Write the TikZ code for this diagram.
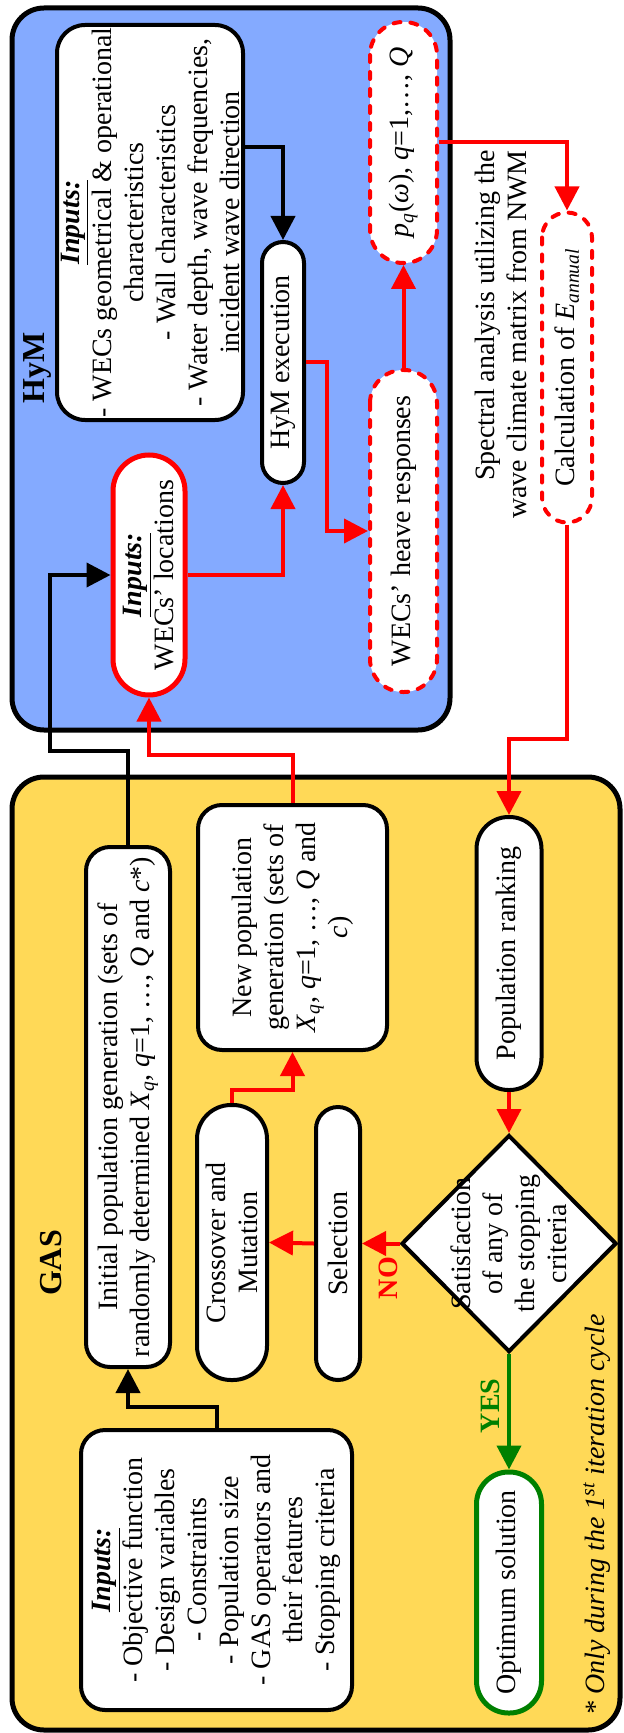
\documentclass[tikz,border=0pt]{standalone}
\usepackage{fontspec}
\setmainfont{Liberation Serif}
\usepackage{xcolor}
\usepackage{tikz}
\usetikzlibrary{calc,positioning,arrows.meta,shapes,fit,backgrounds}

\definecolor{hymblue}{RGB}{132,170,255}
\definecolor{gasyellow}{RGB}{255,217,87}
\definecolor{yesgreen}{RGB}{0,128,0}

\begin{document}
\begin{tikzpicture}[x=0.5pt, y=0.5pt, align=center, font=\fontsize{14}{16}\selectfont,
    every node/.append style={rotate=90},
    box/.style={draw, line width=2pt, fill=white, rounded corners=12pt, inner sep=1pt},
    pill/.style={draw, line width=2pt, fill=white, inner sep=1pt},
    redpill/.style={pill, draw=red, line width=2.5pt},
    dashpill/.style={pill, draw=red, dash pattern=on 3.5pt off 5pt, line cap=round},
    flow/.style={line width=2pt, -{Triangle[length=12pt, width=12pt]}},
    redflow/.style={flow, red}]
    \useasboundingbox (0,0) rectangle (623,-1733);

    \draw[line width=2.5pt, fill=hymblue, rounded corners=16pt] (12,-8) rectangle (450,-730);
    \draw[line width=2.5pt, fill=gasyellow, rounded corners=16pt] (12,-777) rectangle (620,-1730);
    \node[font=\fontsize{16}{18}\selectfont\bfseries] (hym_title) at (37,-368) {HyM};
    \node[font=\fontsize{16}{18}\selectfont\bfseries] (gas_title) at (51,-1263) {GAS};

    % HyM
    \node[box, rounded corners=14pt, minimum width=197.5pt, minimum height=93pt] (hym_inputs) at (150,-222.5) {\underline{\textbf{\textit{Inputs:}}}\\- WECs geometrical \& operational\\characteristics\\- Wall characteristics\\- Water depth, wave frequencies,\\incident wave direction};
    \node[pill, rounded corners=10.5pt, minimum width=120.5pt, minimum height=21pt] (hym_exec) at (283,-362.5) {HyM execution};
    \node[redpill, rounded corners=18pt, minimum width=120pt, minimum height=36pt] (wec_loc) at (149,-575) {\underline{\textbf{\textit{Inputs:}}}\\WECs' locations};
    \node[dashpill, rounded corners=16.5pt, minimum width=161pt, minimum height=33.5pt] (heave) at (403.5,-531) {WECs' heave responses};
    \node[dashpill, rounded corners=16.5pt, minimum width=120.5pt, minimum height=33.5pt] (pq) at (403.5,-142.5) {\textit{p}\textsubscript{\textit{q}}(\textit{ω}), \textit{q}=1,…, \textit{Q}};
    \node[dashpill, rounded corners=12.5pt, minimum width=155pt, minimum height=25pt] (calc) at (567,-367.5) {Calculation of \textit{E}\textsubscript{\textit{annual}}};
    \node[anchor=east, align=right, inner sep=0pt] (spectral) at (500.5,-150) {Spectral analysis utilizing the\\wave climate matrix from NWM};

    % GAS
    \node[box, minimum width=260pt, minimum height=42pt] (init_pop) at (128,-1107) {Initial population generation (sets of\\randomly determined \textit{X}\textsubscript{\textit{q}}, \textit{q}=1, …, \textit{Q} and \textit{c}*)};
    \node[box, minimum width=122.5pt, minimum height=94.5pt] (new_pop) at (292.5,-927.5) {New population\\generation (sets of\\\textit{X}\textsubscript{\textit{q}}, \textit{q}=1, …, \textit{Q} and\\\textit{c})};
    \node[pill, rounded corners=16pt, minimum width=136.5pt, minimum height=32.5pt] (pop_rank) at (509,-953.5) {Population ranking};
    \node[pill, rounded corners=17pt, minimum width=137.5pt, minimum height=35pt] (crossover) at (232,-1242.5) {Crossover and\\Mutation};
    \node[pill, rounded corners=11pt, minimum width=136.5pt, minimum height=22pt] (selection) at (338,-1243.5) {Selection};
    \node[draw, diamond, line width=2pt, fill=white, inner sep=0pt, minimum width=108.5pt, minimum height=107.5pt,
        label={center:Satisfaction\\of any of\\the stopping\\criteria}] (criteria) at (509,-1243.5) {};
    \node[pill, draw=yesgreen, line width=2.5pt, rounded corners=16pt, minimum width=120.5pt, minimum height=32.5pt] (optimum) at (509,-1592.5) {Optimum solution};
    \node[box, minimum width=140pt, minimum height=135.5pt] (gas_inputs) at (216.5,-1570) {\underline{\textbf{\textit{Inputs:}}}\\- Objective function\\- Design variables\\- Constraints\\- Population size\\- GAS operators and\\their features\\- Stopping criteria};
    \node[anchor=west, inner sep=0pt, font=\fontsize{14}{16}\selectfont\itshape] (footnote) at (597,-1716) {* Only during the 1\textsuperscript{st} iteration cycle};

    \draw[flow] (gas_inputs.east) -- ++(0,21) -| (init_pop.west);
    \draw[flow] (init_pop.east) -- ++(0,94) -- ++(-78,0) |- (wec_loc.north);
    \draw[redflow] (new_pop.east) -- ++(0,48) -| (wec_loc.west);
    \draw[redflow] (wec_loc.south) -| (hym_exec.west);
    \draw[flow] ($(hym_inputs.south)+(0,75.5)$) -| (hym_exec.east);
    \draw[redflow] (hym_exec.south) -- ++(21,0) |- (heave.north);
    \draw[redflow] (heave.east) -- (pq.west);
    \draw[redflow] (pq.south) -| (calc.east);
    \draw[redflow] (calc.west) -- ++(0,-214) -| (pop_rank.east);
    \draw[redflow] (pop_rank.west) -- (criteria.east);
    \draw[redflow] (criteria.north) -- (selection.south);
    \draw[redflow] (selection.north) -- (crossover.south);
    \draw[redflow] (crossover.east) -- ++(0,13) -| (new_pop.west);
    \draw[flow, yesgreen] (criteria.west) -- (optimum.east);

    \node[text=red, font=\fontsize{14}{16}\selectfont\bfseries] (no_label) at ($(criteria.north)!0.5!(selection.south)+(8,-34.5)$) {NO};
    \node[text=yesgreen, font=\fontsize{14}{16}\selectfont\bfseries] (yes_label) at ($(criteria.west)!0.5!(optimum.east)+(-19,6)$) {YES};
\end{tikzpicture}
\end{document}
